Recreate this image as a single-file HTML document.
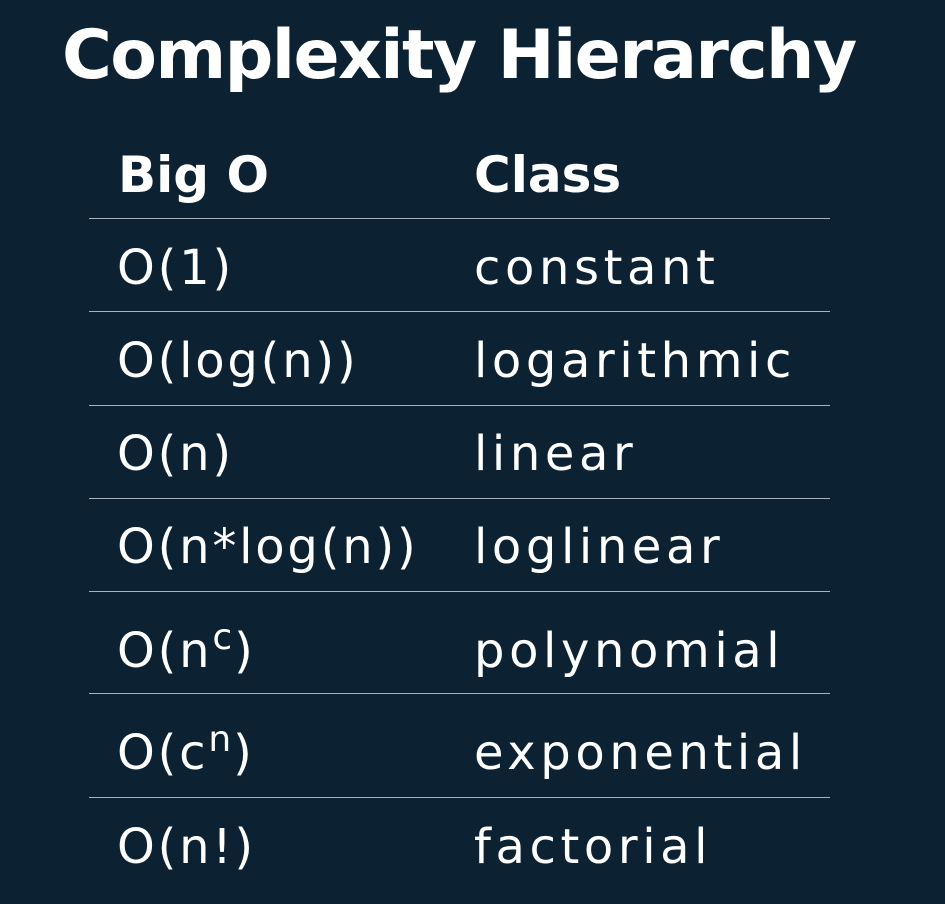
<!DOCTYPE html>
<html><head><meta charset="utf-8"><style>
html,body{margin:0;padding:0}
body{width:945px;height:904px;background:#0c2233;position:relative;overflow:hidden;color:#fff;font-family:"DejaVu Sans","Liberation Sans",sans-serif}
.t{position:absolute;left:62px;top:22px;font-size:68px;line-height:68px;font-weight:bold;letter-spacing:-1.6px;white-space:nowrap}
.h{position:absolute;top:150px;font-size:50px;line-height:50px;font-weight:bold;white-space:nowrap}
.r{position:absolute;font-size:48px;line-height:48px;letter-spacing:4.6px;white-space:nowrap}
.c1{left:117px;letter-spacing:2.8px}.c2{left:474px}
.ln{position:absolute;left:89px;width:741px;height:1px;background:#aab4bd}
sup{font-size:36px;vertical-align:18px;line-height:0;letter-spacing:2px}
</style></head><body>
<div class="t">Complexity Hierarchy</div>
<div class="h" style="left:118px">Big O</div>
<div class="h" style="left:474px">Class</div>
<div class="ln" style="top:218px"></div>
<div class="r c1" style="top:244px">O(1)</div><div class="r c2" style="top:244px">constant</div>
<div class="ln" style="top:311px"></div>
<div class="r c1" style="top:337px">O(log(n))</div><div class="r c2" style="top:337px">logarithmic</div>
<div class="ln" style="top:405px"></div>
<div class="r c1" style="top:430px">O(n)</div><div class="r c2" style="top:430px">linear</div>
<div class="ln" style="top:498px"></div>
<div class="r c1" style="top:523px">O(n*log(n))</div><div class="r c2" style="top:523px">loglinear</div>
<div class="ln" style="top:591px"></div>
<div class="r c1" style="top:627px">O(n<sup>c</sup>)</div><div class="r c2" style="top:627px">polynomial</div>
<div class="ln" style="top:693px"></div>
<div class="r c1" style="top:729px">O(c<sup>n</sup>)</div><div class="r c2" style="top:729px">exponential</div>
<div class="ln" style="top:797px"></div>
<div class="r c1" style="top:823px">O(n!)</div><div class="r c2" style="top:823px">factorial</div>
</body></html>
